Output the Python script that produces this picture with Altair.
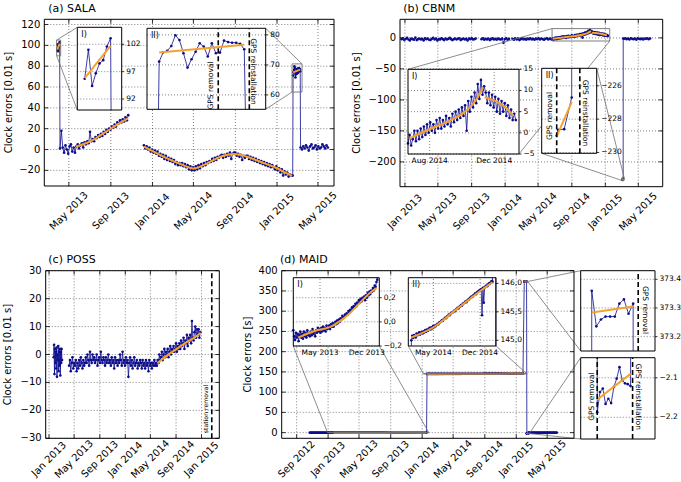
import altair as alt
import pandas as pd

W, H = 681, 482
BLUE = "#0c0c8c"
ORANGE = "#f5a12c"
GREY = "#707070"
FONT = "DejaVu Sans"
DAY = 86_400_000
MINUS = "\u2212"


def ms(stamp):
    return int(pd.Timestamp(stamp).value // 1_000_000)


def dated(start, step_days, values):
    t0 = ms(start)
    return [(t0 + round(k * step_days * DAY), float(v)) for k, v in enumerate(values)]


def stamped(times, values):
    return [(ms(t), float(v)) for t, v in zip(times, values)]


# ---------------- (a) SALA ----------------
sala_peak = [95.7, 101.0, 94.4, 96.7, 98.5, 99.1, 101.6, 103.1]            # daily from 2013-03-28
sala_2013 = [1, 18, 2, -3, 4, 0, -4, 3, 5, -2, 2, -3, 3, 5, 1, 4, 6, 2, 7, 5,
             8, 6, 17, 8, 10, 8, 12, 11, 14, 12, 15, 13, 17, 15, 19, 17, 20, 19, 22, 21,
             24, 22, 26, 25, 28, 26, 29, 27, 31, 28, 33]                     # every 4 days from 2013-04-05
sala_2014 = [4, 1, 3, 0, 2, -2, 0, -3, -1, -4, -2, -6, -4, -7, -5, -9, -6, -10,
             -8, -11, -9, -12, -10, -14, -12, -15, -13,
             -15, -13, -16, -14, -17, -15, -19, -16, -20, -17,
             -20, -16, -19, -15, -18, -14, -16, -13, -15, -12,
             -13, -11, -12, -9, -11, -8, -10, -7, -8, -6,
             -5, -8, -5, -7, -4, -6, -3, -9, -4, -3,
             -3, -6, -4, -7, -5, -10, -6, -8, -6,
             -6, -9, -7, -10, -8, -11, -9, -12, -10, -13,
             -11, -14, -12, -15, -13, -16, -14, -17, -15,
             -17, -19, -16, -20, -18, -22, -19, -25, -21, -24, -22, -26, -24, -25]  # every 4 days from 2013-12-07
sala_pre_t = ["2015-02-16"]
sala_pre_v = [-25.0]
sala_gps = [71.1, 74.2, 74.7, 76.3, 79.9, 78.3, 73.9, 69.1, 71.9, 74.4, 77.2,
            76.1, 72.8, 77.2, 73.9, 74.1, 78.1, 77.6, 77.4, 77.4, 77.0, 75.2]  # daily from 2015-02-17
sala_2015 = [2, 0, 3, 1, 4, 2, -1, 3, 5, 1, 2, 4, 0, 3, 1, 2, 5, 3, 1, 4, 2]  # every 4 days from 2015-03-11

sala_fit_i_t = ["2013-03-28", "2013-04-04"]
sala_fit_i_v = [95.8, 101.7]
sala_fit_1_t = ["2013-05-21", "2013-06-20", "2013-07-10", "2013-08-01", "2013-08-25",
                "2013-09-15", "2013-10-05", "2013-10-22"]
sala_fit_1_v = [2.7, 6.0, 9.0, 13.5, 18.5, 23.0, 27.0, 30.0]
sala_fit_2_t = ["2013-12-07", "2014-02-13", "2014-03-24", "2014-05-02", "2014-06-10", "2014-07-19",
                "2014-08-27", "2014-10-05", "2014-11-13", "2014-12-22", "2015-01-30", "2015-02-14"]
sala_fit_2_v = [2.7, -8.5, -13.9, -18.1, -13.3, -6.9, -4.3, -6.9, -11.7, -16.5, -22.9, -25.4]
sala_fit_ii_t = ["2015-02-17", "2015-03-10"]
sala_fit_ii_v = [74.1, 76.7]

# ---------------- (b) CBNM ----------------
cbnm_2013 = [-2, -0.5, -3.5, -1.5, 0, -2.5, -4, -1, -2, -3, 0.5, -3.5, -2, -1, -2.5, -1.5, -4, -0.5,
             -2, -1, -3, -3.5, -1.5, 0, -2.5, -1, -4, -2, -2.5, -0.5, -2, -3.5, -1, -2.5, -1.5, 0,
             -2, -3.5, -2, -1, -2.5, -1.5, -0.5, -3.5, -2, -1, -2.5, -1.5, -4, -1, -2, -0.5,
             -2.5, -2, -1]                                                    # every 5 days from 2012-12-20
cbnm_late2013 = [-2, -0.5, -3, -1.5, -2.5, -1, -3.5, -2, -0.5, -2.5, -1.5, -3, -1, -2,
                 -2.5, -1, -8, -2, -0.5, -3, -1.5]                            # every 5 days from 2013-10-07
cbnm_2014 = [-1.5, -3, -0.5, -2.5, -1, -3.5, -2, -0.5, -2.5, -1.5, -3, -1, -2, -0.5, -2.5,
             -1.5, -3, -1, -2, -0.5, -2.5, -1, -2, -3, -1.5, -0.5, -2.5, -1, -2]  # every 5 days from 2014-01-28
cbnm_zoom = [-2.5, -0.5, -3.0, -1.5, 0.5, -2.0, 0.5, -1.5, 1.0, -1.0, 1.5, -0.5, 2.0, 0.0, 2.5,
             0.5, 2.0, 0.0, 3.0, 1.0, 3.5, 1.0, 3.0, 1.5, 4.0, 2.0, 3.5, 1.5, 4.5, 2.5, 5.0, 3.0,
             5.5, 3.5, 6.0, 4.0, 6.5, 0.5, 7.5, 5.0, 8.5, 6.0, 9.5, 7.0, 11.5, 8.0, 12.5, 9.0,
             11.0, 9.5, 7.0, 9.5, 6.5, 9.0, 6.0, 8.5, 5.0, 8.0, 4.5, 7.5, 5.0, 7.0, 4.0, 6.5,
             3.5, 5.5, 3.0, 4.5, 3.0]                                         # every 3 days from 2014-06-21
cbnm_gps_t = ["2015-03-05T00:00", "2015-03-05T04:00", "2015-03-06", "2015-03-07", "2015-03-07T03:00"]
cbnm_gps_v = [-229.0, -228.64, -228.6, -226.7, -1.0]
cbnm_2015 = [-1.5, -0.5, -2, -1, -2.5, -0.5, -1.5, -2, -1, -3, -0.5, -1.5, -2, -1, -2.5,
             -1, -1.5, -0.5, -2, -1]                                          # every 5 days from 2015-03-10

cbnm_fit_up_t = ["2014-06-24", "2014-08-07", "2014-09-07", "2014-10-09", "2014-10-28", "2014-11-10"]
cbnm_fit_up_v = [-1.3, 1.2, 2.8, 5.2, 7.8, 10.8]
cbnm_fit_down_t = ["2014-11-13", "2014-12-04", "2014-12-23", "2015-01-07"]
cbnm_fit_down_v = [8.4, 7.5, 6.0, 4.0]
cbnm_fit_gps_t = ["2015-03-05", "2015-03-07"]
cbnm_fit_gps_v = [-229.04, -226.98]

# ---------------- (c) POSS ----------------
poss_early = [-1, 3.5, -7, 2, -3, 1, -5, 2.5, -8, 0, -2, 3, -6, 1, -4, 2, -7.5, 1, -3, 2, -2]  # every 2 days from 2013-01-23
poss_main = [-4, -2, -6, -3, -1, -5, -3, -4, -2, -6,
             -3, -5, -2, -4, -1, -3, -5, -2, -4, -3,
             -1, -3, 0, -2, -4, 1, -2, -3, 0, -2,
             -1, -3, -2, 0, -4, -2, -1, -3, 1, -2,
             -3, -1, -2, -4, -1, -3, -2, 0, -3, -2,
             -4, -1, -3, -2, -5, -1, -3, -2, -4, -2,
             -3, 0, -2, -4, 1, -3, -2, -4, -1, -3,
             -2, -8, -3, -1, -4, -2, -5, -3, -1, -4,
             -3, -2, -5, -3, -4, -2, -3, -5, -2, -4,
             -3, -5, -2, -4, -3, -6, -2, -4, -3, -5,
             -3, -4, -2, -4, -3,
             -4, -2, -3, 0, -2, -1, 1, -2, 0, 2,
             -1, 1, 0, 2, -1, 1, 3, 0, 2, 1,
             3, 1, 2, 4, 1, 3, 2, 4, 2, 5,
             3, 4, 6, 2, 5, 4, 7, 3, 6, 5,
             7, 4, 12, 6, 5, 8, 10, 6, 9, 7,
             9, 6, 8]                                                          # every 4 days from 2013-04-07
poss_fit_t = ["2014-06-04", "2014-07-19", "2014-09-04", "2014-10-22", "2014-12-09", "2014-12-28"]
poss_fit_v = [-3.1, -0.4, 2.0, 4.4, 6.6, 7.8]

# ---------------- (d) MAID ----------------
maid_2012 = [-0.08, -0.12, -0.06, -0.10, -0.14, -0.07, -0.11, -0.09, -0.13, -0.06, -0.10,
             -0.12, -0.08, -0.11, -0.07, -0.13, -0.09, -0.10]                # every 4 days from 2012-10-22
maid_2013 = [-0.07, -0.12, -0.15, -0.09, -0.13, -0.10, -0.16, -0.11, -0.08, -0.13,
             -0.10, -0.14, -0.08, -0.12, -0.09, -0.13, -0.07, -0.11, -0.09, -0.12,
             -0.08, -0.11, -0.06, -0.10, -0.08, -0.12, -0.07, -0.09, -0.05, -0.08,
             -0.06, -0.09, -0.05, -0.08, -0.04, -0.07, -0.05, -0.08, -0.03, -0.06,
             -0.05, -0.03, -0.06, -0.02, -0.04, -0.01, -0.04, -0.02, 0.00, -0.02,
             0.01, -0.01, 0.02, 0.00, 0.03, 0.02, 0.05, 0.03, 0.04, 0.06,
             0.05, 0.07, 0.06, 0.09, 0.08, 0.10, 0.09, 0.12, 0.11, 0.13,
             0.12, 0.15, 0.13, 0.16, 0.15, 0.18, 0.16, 0.19, 0.17, 0.20,
             0.19, 0.21, 0.18, 0.22, 0.20, 0.24, 0.22, 0.25, 0.23, 0.26,
             0.25, 0.28, 0.26, 0.30, 0.29, 0.33, 0.35]                        # every 4 days from 2012-12-30
maid_2014 = [145.00, 145.08, 145.04, 145.09, 145.07, 145.05, 145.12, 145.09, 145.11, 145.14,
             145.10, 145.13, 145.15, 145.12, 145.16, 145.14, 145.18, 145.15, 145.19, 145.17,
             145.20, 145.22, 145.19, 145.23, 145.21, 145.25, 145.23, 145.26, 145.25,
             145.27, 145.29, 145.28, 145.31, 145.32, 145.33, 145.35, 145.34, 145.37, 145.38,
             145.40, 145.39, 145.42, 145.43, 145.45, 145.44, 145.47, 145.48, 145.49,
             145.50, 145.52, 145.51, 145.54, 145.55, 145.57, 145.56, 145.59, 145.60, 145.62,
             145.61, 145.64, 145.65, 145.66, 145.68, 145.67, 145.70, 145.71, 145.72,
             145.74, 145.75, 145.77, 145.76, 145.79, 145.80, 145.82, 145.81, 145.84, 145.85,
             145.86, 145.88, 145.87, 145.90, 145.44, 145.92, 145.66, 145.93, 145.95,
             145.96, 145.95, 145.98, 146.00, 145.99, 146.02, 146.04, 146.03]  # every 4 days from 2014-01-20
maid_373 = [373.36, 373.236, 373.26, 373.27, 373.27, 373.27, 373.315, 373.33, 373.28, 373.315]  # daily from 2015-02-01
maid_gps = [-2.187, -2.136, -2.127, -2.166, -2.153, -2.164, -2.123, -2.102, -2.073, -2.106,
            -2.114, -2.116, -2.121]                                          # every 11 h from 2015-02-11T02:24
maid_back_t = ["2015-02-16T17:00"]
maid_back_v = [0.0]
maid_after = [0.02, -0.03, 0.01, 0.04, -0.02, 0.0, 0.03, -0.01, 0.02, -0.04, 0.01, 0.03, -0.02, 0.0,
              0.02, -0.03, 0.01, 0.04, -0.01, 0.02, 0.0, -0.02, 0.03, 0.01, -0.03, 0.02, 0.0, -0.01]  # every 4 days from 2015-02-19

maid_fit_1_t = ["2013-01-22", "2013-04-16", "2013-06-15", "2013-07-31", "2013-09-15",
                "2013-10-30", "2013-12-15", "2014-01-15"]
maid_fit_1_v = [-0.13, -0.07, -0.044, 0.006, 0.074, 0.157, 0.24, 0.28]
maid_fit_2_t = ["2014-01-20", "2014-05-16", "2014-07-31", "2014-10-16", "2014-12-31", "2015-01-27"]
maid_fit_2_v = [145.05, 145.265, 145.5, 145.73, 145.95, 146.02]
maid_fit_3_t = ["2015-02-01", "2015-02-10"]
maid_fit_3_v = [373.284, 373.305]
maid_fit_4_t = ["2015-02-11T02:24", "2015-02-16T14:24"]
maid_fit_4_v = [-2.155, -2.09]

# ---------------- series assembly ----------------
sala_segs = [
    dated("2013-03-28", 1, sala_peak) + dated("2013-04-05", 4, sala_2013),
    dated("2013-12-07", 4, sala_2014) + stamped(sala_pre_t, sala_pre_v)
    + dated("2015-02-17", 1, sala_gps) + dated("2015-03-11", 4, sala_2015),
]
sala_fits = [stamped(sala_fit_i_t, sala_fit_i_v), stamped(sala_fit_1_t, sala_fit_1_v),
             stamped(sala_fit_2_t, sala_fit_2_v), stamped(sala_fit_ii_t, sala_fit_ii_v)]

cbnm_segs = [
    dated("2012-12-20", 5, cbnm_2013),
    dated("2013-10-07", 5, cbnm_late2013),
    dated("2014-01-28", 5, cbnm_2014) + dated("2014-06-21", 3, cbnm_zoom),
    stamped(cbnm_gps_t, cbnm_gps_v) + dated("2015-03-10", 5, cbnm_2015),
]
cbnm_fits = [stamped(cbnm_fit_up_t, cbnm_fit_up_v), stamped(cbnm_fit_down_t, cbnm_fit_down_v),
             stamped(cbnm_fit_gps_t, cbnm_fit_gps_v)]

poss_segs = [dated("2013-01-23", 2, poss_early), dated("2013-04-07", 4, poss_main)]
poss_fits = [stamped(poss_fit_t, poss_fit_v)]

maid_segs = [
    dated("2012-10-22", 4, maid_2012) + dated("2012-12-30", 4, maid_2013)
    + dated("2014-01-20", 4, maid_2014) + dated("2015-02-01", 1, maid_373)
    + dated("2015-02-11T02:24", 11 / 24, maid_gps) + stamped(maid_back_t, maid_back_v)
    + dated("2015-02-19", 4, maid_after)
]
maid_fits = [stamped(maid_fit_1_t, maid_fit_1_v), stamped(maid_fit_2_t, maid_fit_2_v),
             stamped(maid_fit_3_t, maid_fit_3_v), stamped(maid_fit_4_t, maid_fit_4_v)]

# ---------------- layout: frame (left, right, top, bottom) in px, data extents ----------------
A = dict(frame=(44.3, 334.0, 19.3, 186.0), x=("2013-02-18", "2015-06-17"), y=(-35, 125))
A1 = dict(frame=(77.3, 121.7, 27.3, 110.0), x=("2013-03-26", "2013-04-07"), y=(90.0, 105.1))
A2 = dict(frame=(147.0, 265.7, 28.3, 109.3), x=("2015-02-14", "2015-03-15T07:00"), y=(55.2, 82.2))
B = dict(frame=(400.0, 662.7, 19.3, 186.7), x=("2012-12-14", "2015-07-29"), y=(-240, 30))
B1 = dict(frame=(408.0, 519.0, 69.3, 154.0), x=("2014-06-21", "2015-01-17"), y=(-5, 15))
B2 = dict(frame=(541.7, 596.7, 68.3, 153.3), x=("2015-03-03", "2015-03-10T08:00"), y=(-230.05, -224.95))
C = dict(frame=(45.7, 219.3, 270.7, 438.3), x=("2012-12-16", "2015-03-27"), y=(-30, 30))
D = dict(frame=(281.7, 574.0, 270.7, 438.3), x=("2012-07-05", "2015-08-13"), y=(-14, 400))
D1 = dict(frame=(293.3, 379.3, 277.7, 346.0), x=("2012-12-30", "2014-01-27"), y=(-0.2, 0.366))
D2 = dict(frame=(408.3, 496.0, 277.7, 346.0), x=("2014-01-06", "2015-02-12"), y=(144.9, 146.1))
D3 = dict(frame=(580.7, 655.0, 270.7, 351.0), x=("2015-01-29T14:24", "2015-02-14T18:00"), y=(373.15, 373.43))
D4 = dict(frame=(580.7, 655.0, 357.7, 439.0), x=("2015-02-08T09:00", "2015-02-20T15:00"), y=(-2.255, -2.049))


def extents(p):
    return ms(p["x"][0]), ms(p["x"][1]), p["y"][0], p["y"][1]


def to_data(p, px, py):
    x0, x1, y0, y1 = p["frame"]
    td0, td1, vd0, vd1 = extents(p)
    return (td0 + (px - x0) / (x1 - x0) * (td1 - td0),
            vd0 + (y1 - py) / (y1 - y0) * (vd1 - vd0))


def clip_line(a, b, box):
    (xa, ya), (xb, yb) = a, b
    xmin, xmax, ymin, ymax = box
    dx, dy = xb - xa, yb - ya
    u0, u1 = 0.0, 1.0
    for pi, qi in ((-dx, xa - xmin), (dx, xmax - xa), (-dy, ya - ymin), (dy, ymax - ya)):
        if pi == 0:
            if qi < 0:
                return None
        else:
            r = qi / pi
            if pi < 0:
                u0 = max(u0, r)
            else:
                u1 = min(u1, r)
    if u0 > u1:
        return None
    return (xa + u0 * dx, ya + u0 * dy), (xa + u1 * dx, ya + u1 * dy), u0, u1


def clip_segs(segs, p):
    box = extents(p)
    pieces = []
    for seg in segs:
        cur, open_end = [], False
        for a, b in zip(seg[:-1], seg[1:]):
            res = clip_line(a, b, box)
            if res is None:
                if cur:
                    pieces.append(cur)
                cur, open_end = [], False
                continue
            s, e, u0, u1 = res
            if cur and u0 == 0 and open_end:
                cur.append(e)
            else:
                if cur:
                    pieces.append(cur)
                cur = [s, e]
            open_end = u1 == 1
        if cur:
            pieces.append(cur)
    return pieces


def line_frame(pieces):
    rows = [{"t": t, "v": v, "seg": k, "i": i}
            for k, piece in enumerate(pieces) for i, (t, v) in enumerate(piece)]
    return pd.DataFrame(rows, columns=["t", "v", "seg", "i"])


def fmt_int(v):
    return f"{v:d}".replace("-", MINUS)


def fmt_one(v):
    return f"{v:.1f}".replace("-", MINUS)


def fmt_comma(v):
    return f"{v:.1f}".replace(".", ",").replace("-", MINUS)


def month_label(s):
    return pd.Timestamp(s).strftime("%b %Y")


def panel(p, segs, fits, *, yticks, yfmt, xticks=(), xlabels=None, inset=False,
          dashed=(), links=(), label_drop=25):
    x0, x1, y0, y1 = p["frame"]
    td0, td1, vd0, vd1 = extents(p)
    xs = alt.Scale(domain=[td0, td1], range=[x0, x1], nice=False, zero=False)
    ys = alt.Scale(domain=[vd0, vd1], range=[y1, y0], nice=False, zero=False)

    def X(f):
        return alt.X(f"{f}:Q", scale=xs, axis=None)

    def Y(f):
        return alt.Y(f"{f}:Q", scale=ys, axis=None)

    box = pd.DataFrame({"a": [td0], "b": [td1], "c": [vd0], "d": [vd1]})
    parts = []
    if inset:
        parts.append(alt.Chart(box).mark_rect(color="white").encode(
            x=X("a"), x2=alt.X2("b"), y=Y("c"), y2=alt.Y2("d")))

    # dotted grid
    hg = pd.DataFrame({"v": list(yticks), "label": [yfmt(v) for v in yticks]})
    hg["a"], hg["b"] = td0, td1
    parts.append(alt.Chart(hg).mark_rule(color="black", strokeWidth=0.5, strokeDash=[1, 2]).encode(
        x=X("a"), x2=alt.X2("b"), y=Y("v")))
    tx = pd.DataFrame({"t": [ms(s) for s in xticks], "label": [month_label(s) for s in xticks]})
    if xticks:
        vg = tx.copy()
        vg["c"], vg["d"] = vd0, vd1
        parts.append(alt.Chart(vg).mark_rule(color="black", strokeWidth=0.5, strokeDash=[1, 2]).encode(
            x=X("t"), y=Y("c"), y2=alt.Y2("d")))

    if not inset:
        # inward ticks on all four sides
        tick = dict(color="black", strokeWidth=0.8)
        parts.append(alt.Chart(tx).mark_rule(**tick).encode(x=X("t"), y=alt.value(y1), y2=alt.value(y1 - 4)))
        parts.append(alt.Chart(tx).mark_rule(**tick).encode(x=X("t"), y=alt.value(y0), y2=alt.value(y0 + 4)))
        parts.append(alt.Chart(hg).mark_rule(**tick).encode(y=Y("v"), x=alt.value(x0), x2=alt.value(x0 + 4)))
        parts.append(alt.Chart(hg).mark_rule(**tick).encode(y=Y("v"), x=alt.value(x1 - 4), x2=alt.value(x1)))
        pieces, fit_pieces = segs, fits
        pts = [pt for seg in segs for pt in seg]
    else:
        pieces, fit_pieces = clip_segs(segs, p), clip_segs(fits, p)
        pts = [(t, v) for seg in segs for (t, v) in seg if td0 <= t <= td1 and vd0 <= v <= vd1]

    parts.append(alt.Chart(line_frame(pieces)).mark_line(color=BLUE, strokeWidth=0.8).encode(
        x=X("t"), y=Y("v"), detail="seg:N", order="i:Q"))
    parts.append(alt.Chart(pd.DataFrame(pts, columns=["t", "v"])).mark_circle(
        size=7, color=BLUE, opacity=1).encode(x=X("t"), y=Y("v")))
    parts.append(alt.Chart(line_frame(fit_pieces)).mark_line(
        color=ORANGE, strokeWidth=2, interpolate="monotone").encode(
        x=X("t"), y=Y("v"), detail="seg:N", order="i:Q"))

    if dashed:
        dd = pd.DataFrame({"t": [ms(s) for s in dashed]})
        dd["c"], dd["d"] = vd0, vd1
        parts.append(alt.Chart(dd).mark_rule(color="black", strokeWidth=1.6, strokeDash=[5, 3]).encode(
            x=X("t"), y=Y("c"), y2=alt.Y2("d")))

    if links:
        # zoom boxes on the parent axes and the lines leading to each inset
        boxes, seen, rows = [], [], []
        for q, bc, ic in links:
            qt0, qt1, qv0, qv1 = extents(q)
            if id(q) not in seen:
                seen.append(id(q))
                boxes.append({"a": qt0, "b": qt1, "c": qv0, "d": qv1})
            qx0, qx1, qy0, qy1 = q["frame"]
            bt = qt0 if bc[0] == "l" else qt1
            bv = qv1 if bc[1] == "t" else qv0
            it, iv = to_data(p, qx0 if ic[0] == "l" else qx1, qy0 if ic[1] == "t" else qy1)
            rows.append({"a": bt, "c": bv, "b": it, "d": iv})
        parts.append(alt.Chart(pd.DataFrame(boxes)).mark_rect(
            filled=False, stroke=GREY, strokeWidth=0.9).encode(
            x=X("a"), x2=alt.X2("b"), y=Y("c"), y2=alt.Y2("d")))
        parts.append(alt.Chart(pd.DataFrame(rows)).mark_rule(color=GREY, strokeWidth=0.8).encode(
            x=X("a"), x2=alt.X2("b"), y=Y("c"), y2=alt.Y2("d")))

    parts.append(alt.Chart(box).mark_rect(filled=False, stroke="black", strokeWidth=1.0).encode(
        x=X("a"), x2=alt.X2("b"), y=Y("c"), y2=alt.Y2("d")))

    # tick labels
    if inset:
        parts.append(alt.Chart(hg).mark_rule(color="black", strokeWidth=0.8).encode(
            y=Y("v"), x=alt.value(x1), x2=alt.value(x1 + 2.5)))
        parts.append(alt.Chart(hg).mark_text(font=FONT, fontSize=7.5, color="black", align="left",
                                             baseline="middle").encode(
            x=alt.value(x1 + 4.5), y=Y("v"), text="label:N"))
        if xlabels:
            parts.append(alt.Chart(tx).mark_text(font=FONT, fontSize=7.5, color="black", align="center",
                                                 baseline="top").encode(
                x=X("t"), y=alt.value(y1 + 3), text="label:N"))
    else:
        parts.append(alt.Chart(hg).mark_text(font=FONT, fontSize=10, color="black", align="right",
                                             baseline="middle").encode(
            x=alt.value(x0 - 4), y=Y("v"), text="label:N"))
        parts.append(alt.Chart(tx).mark_text(font=FONT, fontSize=10, color="black", align="center",
                                             baseline="middle", angle=315).encode(
            x=X("t"), y=alt.value(y1 + label_drop), text="label:N"))
    return alt.layer(*parts)


a_ticks = ["2013-05-01", "2013-09-01", "2014-01-01", "2014-05-01", "2014-09-01", "2015-01-01", "2015-05-01"]
b_ticks = ["2013-01-01"] + a_ticks
c_ticks = ["2013-01-01", "2013-05-01", "2013-09-01", "2014-01-01", "2014-05-01", "2014-09-01", "2015-01-01"]
d_ticks = ["2012-09-01", "2013-01-01"] + a_ticks
a_yt = list(range(-20, 121, 20))
b_yt = list(range(-200, 1, 50))
c_yt = list(range(-30, 31, 10))
d_yt = list(range(0, 401, 50))

layers = [
    panel(A, sala_segs, sala_fits, xticks=a_ticks, yticks=a_yt, yfmt=fmt_int,
          links=[(A1, "lt", "lt"), (A1, "lb", "lb"), (A2, "rt", "rt"), (A2, "lb", "rb")]),
    panel(B, cbnm_segs, cbnm_fits, xticks=b_ticks, yticks=b_yt, yfmt=fmt_int,
          links=[(B1, "lt", "lt"), (B1, "rb", "rb"), (B2, "rt", "rt"), (B2, "lb", "lb")]),
    panel(C, poss_segs, poss_fits, xticks=c_ticks, yticks=c_yt, yfmt=fmt_int,
          dashed=["2015-02-19"], label_drop=21),
    panel(D, maid_segs, maid_fits, xticks=d_ticks, yticks=d_yt, yfmt=fmt_int, label_drop=21,
          links=[(D1, "lb", "lb"), (D1, "rb", "rb"), (D2, "lb", "lb"), (D2, "rb", "rb"),
                 (D3, "rt", "lt"), (D3, "rb", "lb"), (D4, "rt", "lt"), (D4, "rb", "lb")]),
    panel(A1, sala_segs, sala_fits, inset=True, yticks=[92, 97, 102], yfmt=fmt_int),
    panel(A2, sala_segs, sala_fits, inset=True, yticks=[60, 70, 80], yfmt=fmt_int,
          dashed=["2015-03-03T14:00", "2015-03-11T06:00"]),
    panel(B1, cbnm_segs, cbnm_fits, inset=True, yticks=[-5, 0, 5, 10, 15], yfmt=fmt_int,
          xticks=["2014-08-01", "2014-12-01"], xlabels=True),
    panel(B2, cbnm_segs, cbnm_fits, inset=True, yticks=[-230, -228, -226], yfmt=fmt_int,
          dashed=["2015-03-05T00:00", "2015-03-08T02:00"]),
    panel(D1, maid_segs, maid_fits, inset=True, yticks=[-0.2, 0.0, 0.2], yfmt=fmt_comma,
          xticks=["2013-05-01", "2013-12-01"], xlabels=True),
    panel(D2, maid_segs, maid_fits, inset=True, yticks=[145.0, 145.5, 146.0], yfmt=fmt_comma,
          xticks=["2014-05-01", "2014-12-01"], xlabels=True),
    panel(D3, maid_segs, maid_fits, inset=True, yticks=[373.2, 373.3, 373.4], yfmt=fmt_one,
          dashed=["2015-02-11T02:24"]),
    panel(D4, maid_segs, maid_fits, inset=True, yticks=[-2.2, -2.1], yfmt=fmt_one,
          dashed=["2015-02-11T02:24", "2015-02-16T22:20"]),
]

# ---------------- titles and annotations (pixel positions) ----------------
titles = pd.DataFrame({"label": ["(a) SALA", "(b) CBNM", "(c) POSS", "(d) MAID"],
                       "px": [48.3, 403.3, 48.3, 280.0], "py": [12.3, 12.3, 262.7, 262.7]})
ytitles = pd.DataFrame({"label": ["Clock errors [0.01 s]", "Clock errors [0.01 s]",
                                  "Clock errors [0.01 s]", "Clock errors [s]"],
                        "px": [8.5, 356.7, 7.5, 248.3],
                        "py": [(A["frame"][2] + A["frame"][3]) / 2, (B["frame"][2] + B["frame"][3]) / 2,
                               (C["frame"][2] + C["frame"][3]) / 2, (D["frame"][2] + D["frame"][3]) / 2]})
inset_names = pd.DataFrame({
    "label": ["I)", "II)", "I)", "II)", "I)", "II)"],
    "px": [q["frame"][0] + 4 for q in (A1, A2, B1, B2, D1, D2)],
    "py": [q["frame"][2] + 7.5 for q in (A1, A2, B1, B2, D1, D2)]})
notes_up = pd.DataFrame({"label": ["GPS removal", "GPS removal", "GPS removal"],
                         "px": [211.0, 550.0, 592.0], "py": [85.5, 116.0, 396.7]})
station_note = pd.DataFrame({"label": ["station removal"], "px": [205.5], "py": [409.0]})
notes_down = pd.DataFrame({"label": ["GPS reinstallation", "GPS reinstallation", "GPS removal",
                                     "GPS reinstallation"],
                           "px": [252.5, 585.0, 644.5, 638.3], "py": [71.5, 113.0, 310.0, 396.7]})


def pixel_text(df, **mark):
    return alt.Chart(df).mark_text(font=FONT, color="black", **mark).encode(
        x=alt.X("px:Q", scale=None, axis=None), y=alt.Y("py:Q", scale=None, axis=None),
        text="label:N")


layers += [
    pixel_text(titles, fontSize=11, align="left", baseline="alphabetic"),
    pixel_text(ytitles, fontSize=10, align="center", baseline="middle", angle=270),
    pixel_text(inset_names, fontSize=8, align="left", baseline="middle"),
    pixel_text(notes_up, fontSize=7.5, align="center", baseline="middle", angle=270),
    pixel_text(station_note, fontSize=6.2, align="center", baseline="middle", angle=270),
    pixel_text(notes_down, fontSize=7.5, align="center", baseline="middle", angle=90),
]

chart = (
    alt.layer(*layers)
    .resolve_scale(x="independent", y="independent")
    .properties(width=W, height=H, padding=0, autosize=alt.AutoSizeParams(type="none"))
    .configure_view(strokeWidth=0)
)

chart.save("out.html", embed_options={"renderer": "svg", "actions": False})
